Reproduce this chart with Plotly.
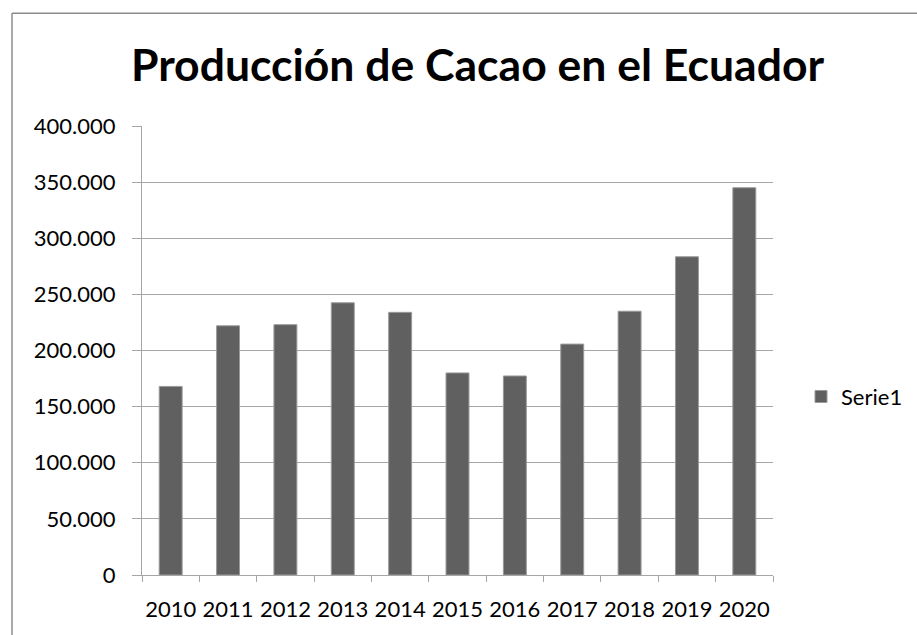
import plotly.graph_objects as go

years = ["2010", "2011", "2012", "2013", "2014", "2015", "2016", "2017", "2018", "2019", "2020"]
produccion = [168000, 222000, 223000, 242500, 234000, 180000, 177300, 205700, 235000, 283500, 345000]
serie_name = "Serie1"
title_text = "Producción de Cacao en el Ecuador"
y_ticks = [0, 50000, 100000, 150000, 200000, 250000, 300000, 350000, 400000]

W, H = 917, 635
L, R, T, B = 142, 773, 126, 575.5

def px_x(px):
    return (px - L) / (R - L)

def px_y(py):
    return (B - py) / (B - T)

fig = go.Figure()
fig.add_trace(go.Bar(
    x=years, y=produccion, name=serie_name,
    marker=dict(color="#606060", line=dict(color="#9a9a9a", width=1)),
    showlegend=True,
))

font_family = "Lato, 'Open Sans', sans-serif"
grid = "#a6a6a6"

fig.update_layout(
    width=W, height=H,
    margin=dict(l=L, r=W - R, t=T, b=H - B, autoexpand=False),
    paper_bgcolor="white", plot_bgcolor="white",
    separators=",.",
    bargap=0.6,
    font=dict(family=font_family, size=22, color="#000000"),
    title=dict(text="<b>" + title_text + "</b>", x=477.5 / W, xanchor="center",
               y=1 - 65 / H, yanchor="middle",
               font=dict(family=font_family, size=44.5, color="#000000")),
    showlegend=True,
    legend=dict(x=px_x(801), y=px_y(397), xanchor="left", yanchor="middle",
                font=dict(size=22, family=font_family), bgcolor="rgba(0,0,0,0)",
                itemwidth=30),
    xaxis=dict(
        type="category", showline=True, linecolor=grid, linewidth=1,
        ticks="outside", ticklen=6, tickcolor=grid, tickson="boundaries",
        showgrid=False, tickfont=dict(size=22), tickangle=0, automargin=False,
        ticklabelstandoff=15,
    ),
    yaxis=dict(
        range=[0, 400000], tickvals=y_ticks, tickformat=",d",
        showline=True, linecolor=grid, linewidth=1,
        showgrid=True, gridcolor=grid, gridwidth=1,
        ticks="outside", ticklen=9, tickcolor=grid,
        tickfont=dict(size=22), zeroline=False, automargin=False,
        ticklabelstandoff=12,
    ),
    shapes=[
        dict(type="line", xref="paper", yref="paper",
             x0=px_x(12), x1=px_x(12), y0=px_y(640), y1=px_y(13),
             line=dict(color="#8c8c8c", width=1.5)),
        dict(type="line", xref="paper", yref="paper",
             x0=px_x(12), x1=px_x(920), y0=px_y(13), y1=px_y(13),
             line=dict(color="#8c8c8c", width=1.5)),
    ],
)

fig.write_html("out.html",
               config={"displayModeBar": False},
               post_script="document.body.style.margin='0';document.body.style.overflow='hidden';")
